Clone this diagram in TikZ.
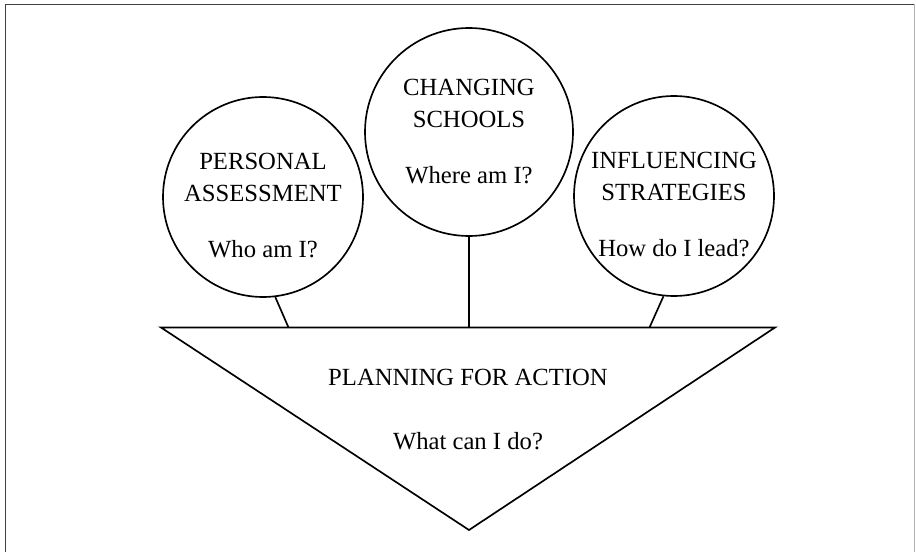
\documentclass[tikz,border=0pt]{standalone}
\usepackage{fontspec}
\setmainfont{Liberation Serif}
\usetikzlibrary{positioning}
\newcommand{\topgap}{\rule{0pt}{24.5pt}}

\begin{document}
\begin{tikzpicture}[
    x=0.75pt,y=-0.75pt,
    line width=1.25pt,
    every node/.style={font=\fontsize{18.5}{24}\selectfont,align=center},
    topic/.style={draw,circle,inner sep=-5pt,minimum size=150pt}
]
\useasboundingbox (0,0) rectangle (916,552);

% frame, open at the bottom
\draw[black!75,line width=1.3pt] (5.5,552) -- (5.5,4.5) -- (914.5,4.5);
\draw[gray!60,line width=1.3pt] (914.5,4.5) -- (914.5,552);

% the three circles
\node[topic] (assess) at (263,197) {\topgap PERSONAL\\ASSESSMENT\\[18pt]Who am I?};
\node[topic,minimum size=156pt] (change) at (469,132) {CHANGING\\SCHOOLS\\[18pt]Where am I?};
\node[topic] (influ) at (674,196) {\topgap INFLUENCING\\STRATEGIES\\[18pt]How do I lead?};

% triangle
\coordinate (tl) at (161,327.5);
\coordinate (tr) at (775,327.5);
\coordinate (tip) at (469,530);
\draw (tl) -- (tr) -- (tip) -- cycle;
\node (plan) at (468,410) {PLANNING FOR ACTION\\[24pt]What can I do?};

% stems
\coordinate (footA) at (288.5,327.5);
\coordinate (footB) at (469,327.5);
\coordinate (footC) at (649.5,327.5);
\draw (assess.-83) -- (footA);
\draw (change.south) -- (footB);
\draw (influ.-96) -- (footC);

\end{tikzpicture}
\end{document}
